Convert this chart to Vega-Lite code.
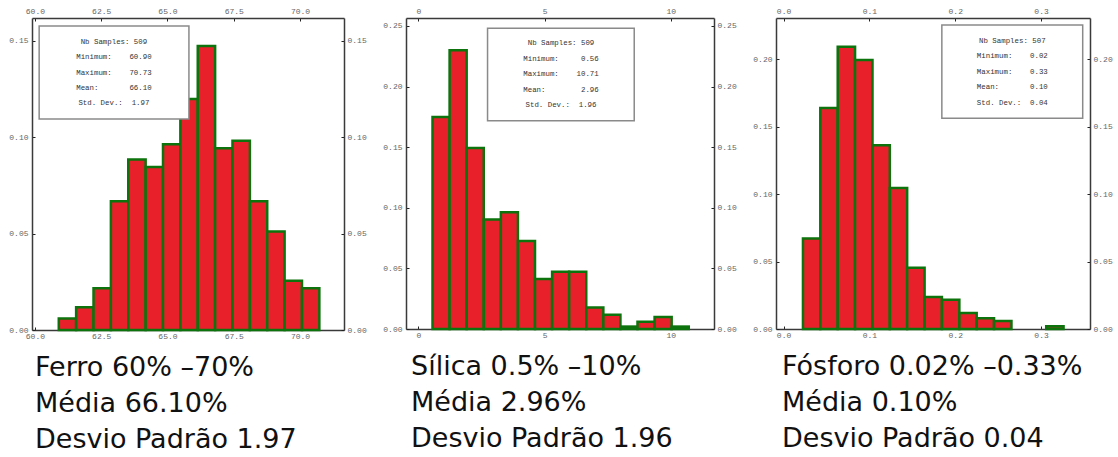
{
  "$schema": "https://vega.github.io/schema/vega-lite/v6.json",
  "autosize": {"type": "pad"},
  "padding": {"left": 8, "top": 7, "right": 5, "bottom": 0},
  "background": "white",
  "spacing": 62,
  "bounds": "flush",
  "config": {
    "view": {"stroke": null},
    "axis": {
      "labelFont": "Liberation Mono",
      "labelFontSize": 8,
      "labelColor": "#666666",
      "domainColor": "#3a3a3a",
      "domainWidth": 1.5,
      "tickColor": "#222222",
      "tickWidth": 1,
      "tickSize": -3,
      "grid": false,
      "title": null
    },
    "title": {
      "orient": "bottom",
      "anchor": "start",
      "frame": "group",
      "font": "DejaVu Sans",
      "fontSize": 27,
      "fontWeight": "normal",
      "color": "#111111",
      "lineHeight": 36,
      "baseline": "top",
      "offset": 14
    }
  },
  "hconcat": [
    {
      "width": 312,
      "height": 312,
      "title": {"text": ["Ferro 60% –70%", "Média 66.10%", "Desvio Padrão 1.97"], "dx": 3},
      "layer": [
        {
          "data": {"values": [
            {"lo": 60.900, "hi": 61.555, "f": 0.0059},
            {"lo": 61.555, "hi": 62.211, "f": 0.0118},
            {"lo": 62.211, "hi": 62.866, "f": 0.0216},
            {"lo": 62.866, "hi": 63.521, "f": 0.0668},
            {"lo": 63.521, "hi": 64.177, "f": 0.0884},
            {"lo": 64.177, "hi": 64.832, "f": 0.0845},
            {"lo": 64.832, "hi": 65.487, "f": 0.0963},
            {"lo": 65.487, "hi": 66.143, "f": 0.1198},
            {"lo": 66.143, "hi": 66.798, "f": 0.1473},
            {"lo": 66.798, "hi": 67.453, "f": 0.0943},
            {"lo": 67.453, "hi": 68.109, "f": 0.0982},
            {"lo": 68.109, "hi": 68.764, "f": 0.0668},
            {"lo": 68.764, "hi": 69.419, "f": 0.0511},
            {"lo": 69.419, "hi": 70.075, "f": 0.0255},
            {"lo": 70.075, "hi": 70.730, "f": 0.0216}
          ]},
          "mark": {"type": "bar", "fill": "#e8202a", "stroke": "#0d730d", "strokeWidth": 2.5},
          "encoding": {
            "x": {"field": "lo", "type": "quantitative",
                  "scale": {"domain": [59.89, 71.66], "nice": false, "zero": false},
                  "axis": {"orient": "bottom", "values": [60, 62.5, 65, 67.5, 70], "format": ".1f", "labelPadding": 5.5}},
            "x2": {"field": "hi"},
            "y": {"field": "f", "type": "quantitative",
                  "scale": {"domain": [0, 0.1618], "nice": false},
                  "axis": {"orient": "left", "values": [0, 0.05, 0.1, 0.15], "format": ".2f", "labelPadding": 7}},
            "y2": {"datum": 0}
          }
        },
        {
          "data": {"values": [{"box": "stats"}]},
          "mark": {"type": "rect", "fill": "white", "stroke": "#8a8a8a", "strokeWidth": 1.5},
          "encoding": {
            "x": {"datum": 60.16, "type": "quantitative",
                  "axis": {"orient": "top", "values": [60, 62.5, 65, 67.5, 70], "format": ".1f", "labelPadding": 5.5}},
            "x2": {"datum": 65.81},
            "y": {"datum": 0.1577, "type": "quantitative",
                  "axis": {"orient": "right", "values": [0, 0.05, 0.1, 0.15], "format": ".2f", "labelPadding": 6}},
            "y2": {"datum": 0.1094}
          }
        },
        {
          "data": {"values": [{"box": "stats"}]},
          "mark": {"type": "text", "font": "Liberation Mono", "fontSize": 7.4, "lineHeight": 15.4,
                   "align": "center", "baseline": "middle", "color": "#333333",
                   "text": ["Nb Samples: 509", "Minimum:\u00a0\u00a0\u00a0\u00a060.90", "Maximum:\u00a0\u00a0\u00a0\u00a070.73", "Mean:\u00a0\u00a0\u00a0\u00a0\u00a0\u00a0\u00a066.10", "Std. Dev.:\u00a0\u00a01.97"]},
          "encoding": {
            "x": {"datum": 62.98, "type": "quantitative", "axis": null},
            "y": {"datum": 0.1495, "type": "quantitative", "axis": null}
          }
        }
      ],
      "resolve": {"axis": {"x": "independent", "y": "independent"}}
    },
    {
      "width": 308,
      "height": 311,
      "title": {"text": ["Sílica 0.5% –10%", "Média 2.96%", "Desvio Padrão 1.96"], "dx": 5},
      "layer": [
        {
          "data": {"values": [
            {"lo": 0.560, "hi": 1.237, "f": 0.1749},
            {"lo": 1.237, "hi": 1.913, "f": 0.2299},
            {"lo": 1.913, "hi": 2.590, "f": 0.1493},
            {"lo": 2.590, "hi": 3.267, "f": 0.0904},
            {"lo": 3.267, "hi": 3.943, "f": 0.0963},
            {"lo": 3.943, "hi": 4.620, "f": 0.0727},
            {"lo": 4.620, "hi": 5.297, "f": 0.0413},
            {"lo": 5.297, "hi": 5.973, "f": 0.0472},
            {"lo": 5.973, "hi": 6.650, "f": 0.0472},
            {"lo": 6.650, "hi": 7.327, "f": 0.0177},
            {"lo": 7.327, "hi": 8.003, "f": 0.0118},
            {"lo": 8.003, "hi": 8.680, "f": 0.0020},
            {"lo": 8.680, "hi": 9.357, "f": 0.0059},
            {"lo": 9.357, "hi": 10.033, "f": 0.0098},
            {"lo": 10.033, "hi": 10.710, "f": 0.0020}
          ]},
          "mark": {"type": "bar", "fill": "#e8202a", "stroke": "#0d730d", "strokeWidth": 2.5},
          "encoding": {
            "x": {"field": "lo", "type": "quantitative",
                  "scale": {"domain": [-0.49, 11.71], "nice": false, "zero": false},
                  "axis": {"orient": "bottom", "values": [0, 5, 10], "format": "d", "labelPadding": 5.5}},
            "x2": {"field": "hi"},
            "y": {"field": "f", "type": "quantitative",
                  "scale": {"domain": [0, 0.2566], "nice": false},
                  "axis": {"orient": "left", "values": [0, 0.05, 0.1, 0.15, 0.2, 0.25], "format": ".2f", "labelPadding": 7}},
            "y2": {"datum": 0}
          }
        },
        {
          "data": {"values": [{"box": "stats"}]},
          "mark": {"type": "rect", "fill": "white", "stroke": "#8a8a8a", "strokeWidth": 1.5},
          "encoding": {
            "x": {"datum": 2.74, "type": "quantitative",
                  "axis": {"orient": "top", "values": [0, 5, 10], "format": "d", "labelPadding": 5.5}},
            "x2": {"datum": 8.55},
            "y": {"datum": 0.2481, "type": "quantitative",
                  "axis": {"orient": "right", "values": [0, 0.05, 0.1, 0.15, 0.2, 0.25], "format": ".2f", "labelPadding": 6}},
            "y2": {"datum": 0.1719}
          }
        },
        {
          "data": {"values": [{"box": "stats"}]},
          "mark": {"type": "text", "font": "Liberation Mono", "fontSize": 7.4, "lineHeight": 15.5,
                   "align": "center", "baseline": "middle", "color": "#333333",
                   "text": ["Nb Samples: 509", "Minimum:\u00a0\u00a0\u00a0\u00a0\u00a00.56", "Maximum:\u00a0\u00a0\u00a0\u00a010.71", "Mean:\u00a0\u00a0\u00a0\u00a0\u00a0\u00a0\u00a0\u00a02.96", "Std. Dev.:\u00a0\u00a01.96"]},
          "encoding": {
            "x": {"datum": 5.65, "type": "quantitative", "axis": null},
            "y": {"datum": 0.2357, "type": "quantitative", "axis": null}
          }
        }
      ],
      "resolve": {"axis": {"x": "independent", "y": "independent"}}
    },
    {
      "width": 314,
      "height": 311,
      "title": {"text": ["Fósforo 0.02% –0.33%", "Média 0.10%", "Desvio Padrão 0.04"], "dx": 6},
      "layer": [
        {
          "data": {"values": [
            {"lo": 0.0226, "hi": 0.0428, "f": 0.0671},
            {"lo": 0.0428, "hi": 0.0631, "f": 0.1637},
            {"lo": 0.0631, "hi": 0.0833, "f": 0.2091},
            {"lo": 0.0833, "hi": 0.1036, "f": 0.1992},
            {"lo": 0.1036, "hi": 0.1238, "f": 0.1361},
            {"lo": 0.1238, "hi": 0.1440, "f": 0.1045},
            {"lo": 0.1440, "hi": 0.1643, "f": 0.0454},
            {"lo": 0.1643, "hi": 0.1845, "f": 0.0237},
            {"lo": 0.1845, "hi": 0.2048, "f": 0.0217},
            {"lo": 0.2048, "hi": 0.2250, "f": 0.0118},
            {"lo": 0.2250, "hi": 0.2452, "f": 0.0079},
            {"lo": 0.2452, "hi": 0.2655, "f": 0.0059},
            {"lo": 0.3060, "hi": 0.3262, "f": 0.0020}
          ]},
          "mark": {"type": "bar", "fill": "#e8202a", "stroke": "#0d730d", "strokeWidth": 2.5},
          "encoding": {
            "x": {"field": "lo", "type": "quantitative",
                  "scale": {"domain": [-0.0088, 0.357], "nice": false, "zero": false},
                  "axis": {"orient": "bottom", "values": [0, 0.1, 0.2, 0.3], "format": ".1f", "labelPadding": 5.5}},
            "x2": {"field": "hi"},
            "y": {"field": "f", "type": "quantitative",
                  "scale": {"domain": [0, 0.2304], "nice": false},
                  "axis": {"orient": "left", "values": [0, 0.05, 0.1, 0.15, 0.2], "format": ".2f", "labelPadding": 7}},
            "y2": {"datum": 0}
          }
        },
        {
          "data": {"values": [{"box": "stats"}]},
          "mark": {"type": "rect", "fill": "white", "stroke": "#8a8a8a", "strokeWidth": 1.5},
          "encoding": {
            "x": {"datum": 0.1844, "type": "quantitative",
                  "axis": {"orient": "top", "values": [0, 0.1, 0.2, 0.3], "format": ".1f", "labelPadding": 5.5}},
            "x2": {"datum": 0.3485},
            "y": {"datum": 0.2252, "type": "quantitative",
                  "axis": {"orient": "right", "values": [0, 0.05, 0.1, 0.15, 0.2], "format": ".2f", "labelPadding": 6}},
            "y2": {"datum": 0.1561}
          }
        },
        {
          "data": {"values": [{"box": "stats"}]},
          "mark": {"type": "text", "font": "Liberation Mono", "fontSize": 7.4, "lineHeight": 15.5,
                   "align": "center", "baseline": "middle", "color": "#333333",
                   "text": ["Nb Samples: 507", "Minimum:\u00a0\u00a0\u00a0\u00a00.02", "Maximum:\u00a0\u00a0\u00a0\u00a00.33", "Mean:\u00a0\u00a0\u00a0\u00a0\u00a0\u00a0\u00a00.10", "Std. Dev.:\u00a0\u00a00.04"]},
          "encoding": {
            "x": {"datum": 0.2665, "type": "quantitative", "axis": null},
            "y": {"datum": 0.2136, "type": "quantitative", "axis": null}
          }
        }
      ],
      "resolve": {"axis": {"x": "independent", "y": "independent"}}
    }
  ]
}
